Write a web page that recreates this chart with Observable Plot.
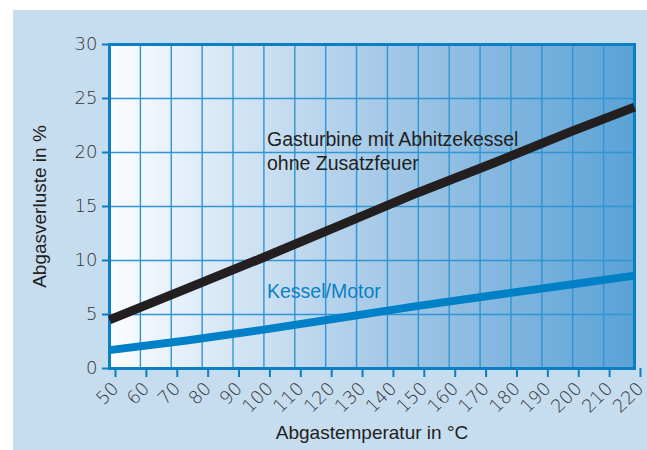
<!DOCTYPE html>
<html><head><meta charset="utf-8">
<script src="https://cdn.jsdelivr.net/npm/d3@7"></script>
<script src="https://cdn.jsdelivr.net/npm/@observablehq/plot@0.6"></script>
<style>
body{margin:0;background:#fff;}
#wrap{position:absolute;left:13px;top:10px;width:634px;height:440px;background:#c6dcef;}
</style></head><body><div id="wrap"></div>
<script>
const temps = [50, 75, 100, 125, 150, 175, 200, 220];
const gasturbine = [4.5, 7.4, 10.3, 13.3, 16.3, 19.1, 22.0, 24.2];
const kessel = [1.7, 2.6, 3.6, 4.7, 5.8, 6.8, 7.8, 8.6];
const xTicks = [50,60,70,80,90,100,110,120,130,140,150,160,170,180,190,200,210,220];
const yTicks = [0,5,10,15,20,25,30];
const labels = [
  {x: 101, y: 20.2, text: "Gasturbine mit Abhitzekessel\nohne Zusatzfeuer", color: "#231f20"},
  {x: 101, y: 7.2, text: "Kessel/Motor", color: "#0a80c6"}
];

const rows = [];
temps.forEach((t, i) => {
  rows.push({t, v: gasturbine[i], s: "g"});
  rows.push({t, v: kessel[i], s: "k"});
});

const font = "'Liberation Sans', Arial, sans-serif";
const tickFont = "'DejaVu Sans', sans-serif";
const plot = Plot.plot({
  width: 634, height: 440,
  marginLeft: 96, marginRight: 13, marginTop: 34, marginBottom: 82,
  style: {background: "transparent", fontFamily: font, fontSize: "18px"},
  x: {domain: [50, 220]},
  y: {domain: [0, 30]},
  marks: [
    Plot.frame({fill: "url(#bggrad)", stroke: null}),
    Plot.ruleX(xTicks, {stroke: "#2f95d3", strokeWidth: 1.4}),
    Plot.ruleY(yTicks, {stroke: "#2f95d3", strokeWidth: 1.4}),
    Plot.frame({stroke: "#0a7fc4", strokeWidth: 3}),
    Plot.line(rows.filter(d => d.s === "k"), {x: "t", y: "v", stroke: "#0080c6", strokeWidth: 8, strokeLinecap: "butt"}),
    Plot.line(rows.filter(d => d.s === "g"), {x: "t", y: "v", stroke: "#231f20", strokeWidth: 9, strokeLinecap: "butt"}),
    Plot.axisY({ticks: yTicks, tickSize: 7, tickPadding: 5, stroke: "#0a7fc4", strokeWidth: 2, fill: "#333", fontSize: 18, fontFamily: tickFont, fontWeight: 200, label: null, tickFormat: d => String(d)}),
    Plot.axisX({ticks: xTicks, tickSize: 9, tickPadding: 8, dx: 6, tickRotate: -45, stroke: "#0a7fc4", strokeWidth: 2, fill: "#333", fontSize: 18, fontFamily: tickFont, fontWeight: 200, label: null, tickFormat: d => String(d)}),
    Plot.text(labels, {x: "x", y: "y", text: "text", fill: "color", textAnchor: "start", fontSize: 19.5, lineHeight: 1.2}),
    Plot.text(["Abgastemperatur in °C"], {frameAnchor: "bottom", dy: 70, text: d => d, fontSize: 19, fill: "#231f20"}),
    Plot.text(["Abgasverluste in %"], {frameAnchor: "left", textAnchor: "middle", dx: -70, rotate: -90, text: d => d, fontSize: 19, fill: "#231f20"})
  ]
});

const svg = d3.select(plot);
svg.selectAll('g[aria-label="x-axis tick label"], g[aria-label="y-axis tick label"]')
  .attr("font-size", 18).style("font-size", "18px");
const g = svg.insert("defs", ":first-child").append("linearGradient").attr("id", "bggrad")
  .attr("x1", "0").attr("x2", "1").attr("y1", "0").attr("y2", "0");
g.append("stop").attr("offset", "0").attr("stop-color", "#fbfdff");
g.append("stop").attr("offset", "0.5").attr("stop-color", "#a9cbe8");
g.append("stop").attr("offset", "1").attr("stop-color", "#5aa2d6");

document.getElementById("wrap").appendChild(plot);
</script></body></html>
